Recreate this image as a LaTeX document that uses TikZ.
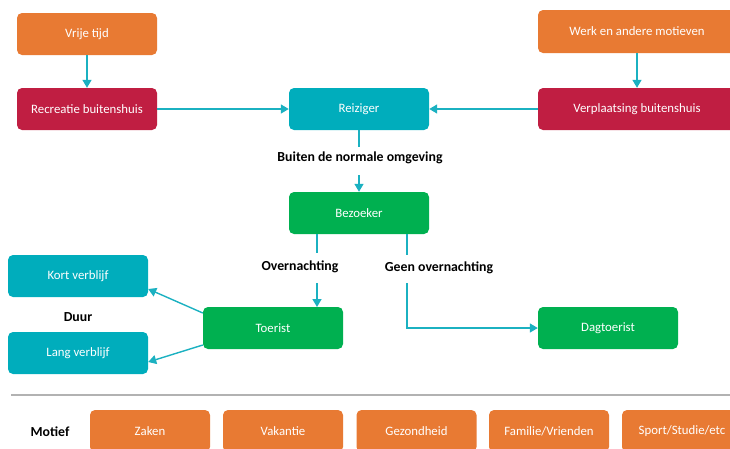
\documentclass[tikz,border=0pt]{standalone}
\usepackage{fontspec}
\setmainfont{Carlito}
\usetikzlibrary{arrows.meta}
\definecolor{corange}{HTML}{E87A33}
\definecolor{ccrimson}{HTML}{C01E42}
\definecolor{cteal}{HTML}{00ADBC}
\definecolor{cgreen}{HTML}{00B050}
\definecolor{carrow}{HTML}{1BB1C1}
\begin{document}
\begin{tikzpicture}[x=1pt,y=-1pt,
  box/.style={rounded corners=5pt, minimum width=140pt, minimum height=42pt, inner sep=0pt,
    text=white, font=\fontsize{12.8}{15}\selectfont},
  mbox/.style={box, minimum width=120pt},
  lbl/.style={font=\fontsize{13.8}{15}\selectfont\bfseries, text=black, inner sep=0pt},
  conn/.style={draw=carrow, line width=1.4pt},
  arr/.style={conn, -{Triangle[length=8pt,width=9pt]}},
]
\useasboundingbox (0,0) rectangle (730,448);
\clip (0,0) rectangle (730,448);

% top row
\node[box, fill=corange] (vt) at (87,34) {Vrije tijd};
\node[box, fill=corange, minimum width=198pt, minimum height=43pt] (wm) at (637,31.5) {Werk en andere motieven};
\node[box, fill=ccrimson] (rb) at (87,109) {Recreatie buitenshuis};
\node[box, fill=cteal] (rz) at (359,109) {Reiziger};
\node[box, fill=ccrimson, minimum width=198pt] (vb) at (637,109) {Verplaatsing buitenshuis};

\draw[arr] (vt) -- (rb);
\draw[arr] (wm) -- (vb);
\draw[arr] (rb) -- (rz);
\draw[arr] (vb) -- (rz);

% Bezoeker
\node[lbl] (l1) at (360,158) {Buiten de normale omgeving};
\node[box, fill=cgreen] (bz) at (359,213) {Bezoeker};
\coordinate (g1a) at (rz.south |- 0,147);
\coordinate (g1b) at (rz.south |- 0,175);
\draw[conn] (rz.south) -- (g1a);
\draw[arr] (g1b) -- (bz.north);

% Toerist / Dagtoerist
\node[box, fill=cgreen] (to) at (273,328) {Toerist};
\node[box, fill=cgreen] (dt) at (608,328) {Dagtoerist};
\node[lbl] (l2) at (300,267) {Overnachting};
\node[lbl] (l3) at (439,268) {Geen overnachting};
\coordinate (o1) at (317,234);
\coordinate (o2) at (317,253);
\coordinate (o3) at (317,283);
\coordinate (o4) at (317,307);
\draw[conn] (o1) -- (o2);
\draw[arr] (o3) -- (o4);
\coordinate (n1) at (407,234);
\coordinate (n2) at (407,255);
\coordinate (n3) at (407,283);
\draw[conn] (n1) -- (n2);
\draw[arr] (n3) |- (dt.west);

% Duur
\node[box, fill=cteal] (kv) at (78,276) {Kort verblijf};
\node[box, fill=cteal] (lv) at (78,353) {Lang verblijf};
\node[lbl] (duur) at (78,317) {Duur};
\draw[arr] ([yshift=15pt]to.west) -- ([yshift=-13pt]kv.east);
\draw[arr] ([yshift=-17pt]to.west) -- ([yshift=-9pt]lv.east);

% separator
\coordinate (s1) at (11,395);
\coordinate (s2) at (740,395);
\draw[draw=black!30, line width=1.2pt] (s1) -- (s2);

% Motief row
\node[lbl] (mot) at (50,432) {Motief};
\node[mbox, fill=corange] (m1) at (150,431) {Zaken};
\node[mbox, fill=corange] (m2) at (283,431) {Vakantie};
\node[mbox, fill=corange] (m3) at (416.5,431) {Gezondheid};
\node[mbox, fill=corange] (m4) at (549,431) {Familie/Vrienden};
\node[mbox, fill=corange] (m5) at (682,431) {Sport/Studie/etc};
\end{tikzpicture}
\end{document}
